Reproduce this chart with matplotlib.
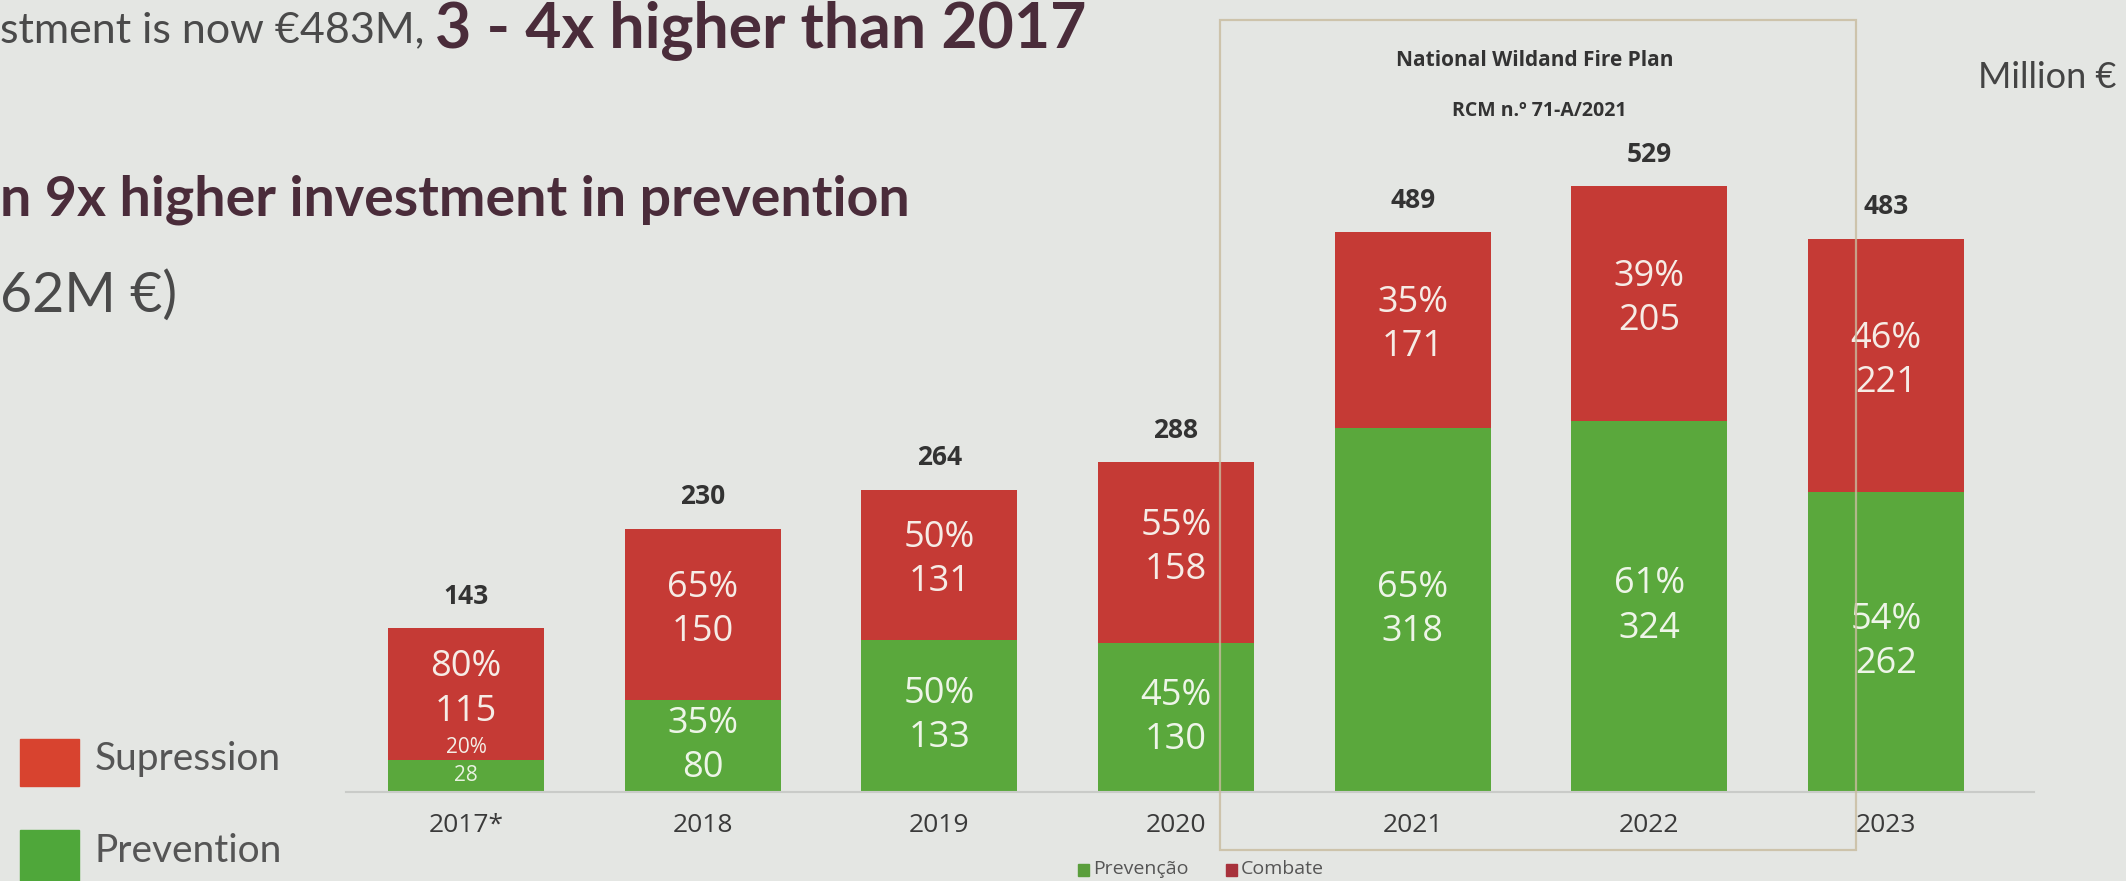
import numpy as np
import matplotlib.pyplot as plt
from matplotlib.patches import Rectangle

# data (million euro)
years = ['2017*', '2018', '2019', '2020', '2021', '2022', '2023']
prevention = [28, 80, 133, 130, 318, 324, 262]
supression = [115, 150, 131, 158, 171, 205, 221]
totals = [143, 230, 264, 288, 489, 529, 483]
prev_pct = ['20%', '35%', '50%', '45%', '65%', '61%', '54%']
sup_pct = ['80%', '65%', '50%', '55%', '35%', '39%', '46%']

RED = '#c53a35'
GREEN = '#5aa83c'
BG = '#e4e6e3'
W, H = 2126, 881

fig = plt.figure(figsize=(W / 100, H / 100), dpi=100, facecolor=BG)
plt.rcParams['font.family'] = ['Open Sans', 'DejaVu Sans']

ax = fig.add_axes([346 / W, 0.101, (2034 - 346) / W, 0.780])
ax.set_facecolor('none')
x = np.arange(len(years))
ax.bar(x, prevention, width=0.66, color=GREEN, zorder=2)
ax.bar(x, supression, width=0.66, bottom=prevention, color=RED, zorder=2)
ax.set_xlim(-0.507, 6.625)
ax.set_ylim(0, 600)

for i in range(len(years)):
    p, s = prevention[i], supression[i]
    if p < 50:
        # tiny green segment: small labels
        ax.text(x[i], p + 2, prev_pct[i], ha='center', va='bottom', fontsize=15,
                color='#f4eee6', zorder=3)
        ax.text(x[i], p / 2, str(p), ha='center', va='center', fontsize=15,
                color='#e8f2e0', zorder=3)
    else:
        ax.text(x[i], p / 2, prev_pct[i] + '\n' + str(p), ha='center', va='center',
                fontsize=26, color='#eef5e8', linespacing=1.3, zorder=3)
    ax.text(x[i], p + s / 2 + 4, sup_pct[i] + '\n' + str(s), ha='center', va='center',
            fontsize=26, color='#f6ece6', linespacing=1.3, zorder=3)
    ax.annotate(str(totals[i]), (x[i], totals[i]), xytext=(0, 23),
                textcoords='offset points', ha='center', va='center',
                fontsize=19, fontweight='bold', color='#333333')

ax.set_xticks(x)
ax.set_xticklabels(years, fontsize=19, color='#3a3a3a')
ax.tick_params(axis='x', length=0, pad=15)
ax.set_yticks([])
for sp in ['top', 'right', 'left']:
    ax.spines[sp].set_visible(False)
ax.spines['bottom'].set_color('#c9cbc8')
ax.spines['bottom'].set_linewidth(1.5)

# plan box
fig.add_artist(Rectangle((1220 / W, 1 - 850 / H), (1856 - 1220) / W, (850 - 20) / H,
                         transform=fig.transFigure, fill=False, edgecolor='#c8bb9e',
                         linewidth=1.6, alpha=0.8, zorder=5))
fig.text(1535 / W, 1 - 60 / H, 'National Wildand Fire Plan', ha='center', va='center',
         fontsize=15, fontweight='bold', color='#333333')
fig.text(1539 / W, 1 - 111 / H, 'RCM n.º 71-A/2021', ha='center', va='center',
         fontsize=14, fontweight='bold', color='#333333')

fig.text(1978 / W, 1 - 77 / H, 'Million €', ha='left', va='center', fontsize=26,
         color='#444444', family=['Lato', 'DejaVu Sans'])

# headline text (cut off on the left as in the slide)
r = fig.canvas.get_renderer()
t1 = fig.text(0.0, 1 - 30 / H, 'stment is now €483M, ', ha='left', va='center',
              fontsize=31, color='#4a4a4a', family=['Lato', 'DejaVu Sans'])
x1 = t1.get_window_extent(r).x1 / W
fig.text(x1, 1 - 30 / H, '3 - 4x higher than 2017', ha='left', va='center',
         fontsize=45, fontweight='bold', color='#4a2c3a', family=['Lato', 'DejaVu Sans'])
fig.text(0.0, 1 - 200 / H, 'n 9x higher investment in prevention', ha='left', va='center',
         fontsize=40, fontweight='bold', color='#4a2c3a', family=['Lato', 'DejaVu Sans'])
fig.text(0.0, 1 - 296 / H, '62M €)', ha='left', va='center',
         fontsize=40, color='#4a4a4a', family=['Lato', 'DejaVu Sans'])

# left legend
fig.add_artist(Rectangle((20 / W, 1 - 786 / H), 59 / W, 47 / H, transform=fig.transFigure,
                         color='#d8432f'))
fig.add_artist(Rectangle((20 / W, 1 - 881 / H), 59 / W, 51 / H, transform=fig.transFigure,
                         color='#4fa73a'))
fig.text(95 / W, 1 - 759 / H, 'Supression', ha='left', va='center', fontsize=28,
         color='#555555', family=['Lato', 'DejaVu Sans'])
fig.text(95 / W, 1 - 851 / H, 'Prevention', ha='left', va='center', fontsize=28,
         color='#555555', family=['Lato', 'DejaVu Sans'])

# small legend of the original chart
fig.add_artist(Rectangle((1078 / W, 1 - 876 / H), 11 / W, 12 / H, transform=fig.transFigure,
                         color='#5a9e3c'))
fig.text(1093 / W, 1 - 869 / H, 'Prevenção', ha='left', va='center', fontsize=14,
         color='#555555')
fig.add_artist(Rectangle((1226 / W, 1 - 876 / H), 11 / W, 12 / H, transform=fig.transFigure,
                         color='#a8323c'))
fig.text(1241 / W, 1 - 869 / H, 'Combate', ha='left', va='center', fontsize=14,
         color='#555555')

plt.savefig('out.png', dpi=100, facecolor=BG)
